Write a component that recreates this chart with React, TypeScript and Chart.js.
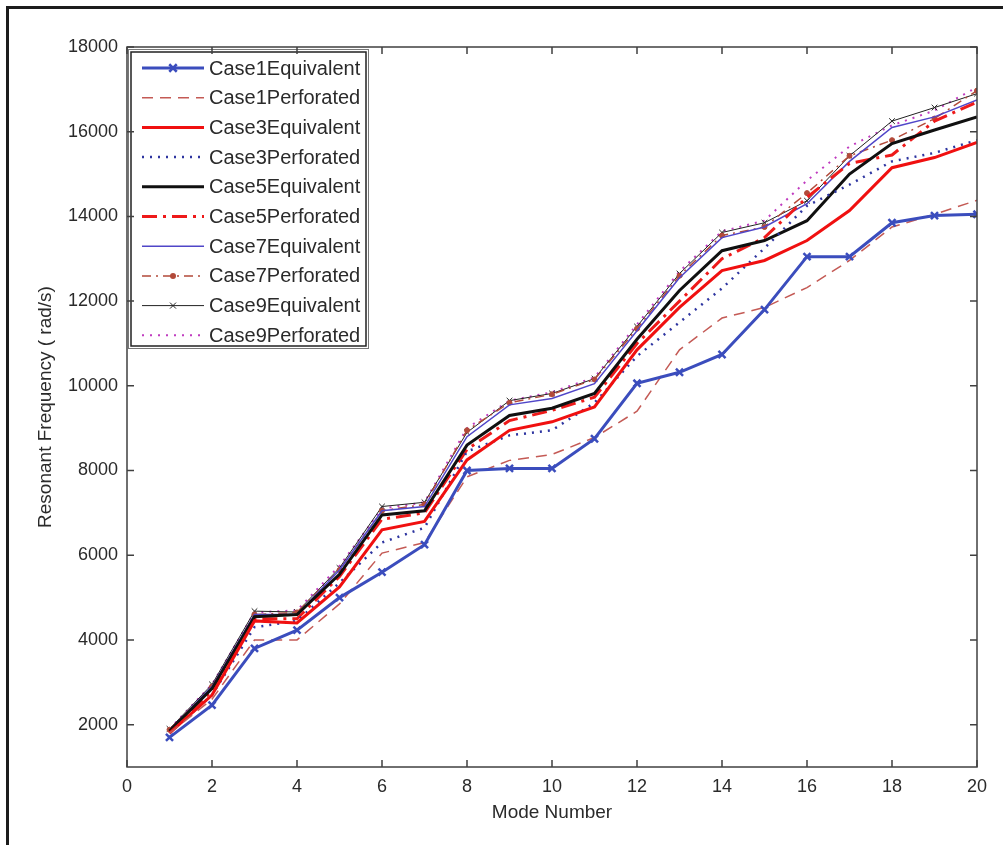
import React, { useEffect, useRef } from "react";
import { Chart, registerables } from "chart.js";

Chart.register(...registerables);

const modes = [1, 2, 3, 4, 5, 6, 7, 8, 9, 10, 11, 12, 13, 14, 15, 16, 17, 18, 19, 20];
const xTicks = [0, 2, 4, 6, 8, 10, 12, 14, 16, 18, 20];
const yTicks = [2000, 4000, 6000, 8000, 10000, 12000, 14000, 16000, 18000];

const case1Equivalent = [1700, 2460, 3800, 4230, 5000, 5600, 6250, 8000, 8050, 8050, 8750, 10060, 10320, 10740, 11800, 13050, 13050, 13850, 14020, 14050];
const case1Perforated = [1800, 2600, 4000, 4000, 4850, 6050, 6300, 7850, 8240, 8380, 8780, 9400, 10850, 11600, 11850, 12320, 12960, 13750, 14050, 14380];
const case3Equivalent = [1800, 2700, 4450, 4400, 5250, 6600, 6800, 8250, 8950, 9150, 9500, 10850, 11850, 12720, 12960, 13430, 14140, 15150, 15390, 15750];
const case3Perforated = [1800, 2700, 4300, 4450, 5350, 6300, 6650, 8450, 8830, 8950, 9600, 10700, 11500, 12300, 13250, 14250, 14750, 15300, 15500, 15800];
const case5Equivalent = [1850, 2850, 4550, 4600, 5550, 6950, 7050, 8600, 9300, 9470, 9820, 11100, 12250, 13190, 13430, 13900, 15000, 15720, 16040, 16350];
const case5Perforated = [1850, 2800, 4500, 4500, 5500, 6850, 7000, 8500, 9180, 9420, 9730, 11000, 12000, 13000, 13500, 14450, 15250, 15450, 16250, 16700];
const case7Equivalent = [1870, 2900, 4600, 4600, 5650, 7050, 7150, 8800, 9550, 9700, 10050, 11300, 12550, 13500, 13750, 14300, 15300, 16100, 16350, 16750];
const case7Perforated = [1880, 2900, 4600, 4650, 5650, 7050, 7200, 8950, 9600, 9800, 10150, 11350, 12600, 13550, 13750, 14550, 15430, 15800, 16310, 16970];
const case9Equivalent = [1900, 2950, 4680, 4660, 5700, 7150, 7250, 8900, 9650, 9820, 10170, 11400, 12650, 13620, 13850, 14370, 15430, 16250, 16570, 16900];
const case9Perforated = [1900, 2950, 4650, 4700, 5750, 7100, 7250, 9000, 9650, 9850, 10200, 11450, 12700, 13650, 13900, 14850, 15650, 16150, 16500, 17050];

const FONT = "'Liberation Sans', Arial, Helvetica, sans-serif";
const TEXT = "#2a2a2a";
const AXIS = "#404040";

type Series = {
  label: string;
  values: number[];
  color: string;
  width: number;
  dash: number[];
  marker: string | false;
  markerRadius: number;
  markerWidth: number;
};

const seriesList: Series[] = [
  { label: "Case1Equivalent", values: case1Equivalent, color: "#3b4dbd", width: 3, dash: [], marker: "crossRot", markerRadius: 5, markerWidth: 2.5 },
  { label: "Case1Perforated", values: case1Perforated, color: "#c45a55", width: 1.5, dash: [11, 7], marker: false, markerRadius: 0, markerWidth: 0 },
  { label: "Case3Equivalent", values: case3Equivalent, color: "#f01010", width: 3, dash: [], marker: false, markerRadius: 0, markerWidth: 0 },
  { label: "Case3Perforated", values: case3Perforated, color: "#2e35a0", width: 2.5, dash: [2, 6], marker: false, markerRadius: 0, markerWidth: 0 },
  { label: "Case5Equivalent", values: case5Equivalent, color: "#101010", width: 3, dash: [], marker: false, markerRadius: 0, markerWidth: 0 },
  { label: "Case5Perforated", values: case5Perforated, color: "#ee1a1a", width: 3, dash: [15, 6, 3, 6], marker: false, markerRadius: 0, markerWidth: 0 },
  { label: "Case7Equivalent", values: case7Equivalent, color: "#5046c8", width: 1.5, dash: [], marker: false, markerRadius: 0, markerWidth: 0 },
  { label: "Case7Perforated", values: case7Perforated, color: "#b24a3a", width: 1.5, dash: [9, 5, 2, 5], marker: "circle", markerRadius: 2.5, markerWidth: 1 },
  { label: "Case9Equivalent", values: case9Equivalent, color: "#222222", width: 1, dash: [], marker: "crossRot", markerRadius: 4, markerWidth: 1 },
  { label: "Case9Perforated", values: case9Perforated, color: "#c03cc0", width: 2, dash: [2, 6], marker: false, markerRadius: 0, markerWidth: 0 },
];

const legendPlugin = {
  id: "boxLegend",
  afterDatasetsDraw(chart: any) {
    const ctx = chart.ctx as CanvasRenderingContext2D;
    const bx = 128, by = 49, bw = 240, bh = 299;
    ctx.save();
    ctx.fillStyle = "#ffffff";
    ctx.fillRect(bx, by, bw, bh);
    ctx.strokeStyle = "#777";
    ctx.lineWidth = 1;
    ctx.strokeRect(bx + 0.5, by + 0.5, bw, bh);
    ctx.strokeStyle = "#222";
    ctx.lineWidth = 1.5;
    ctx.strokeRect(bx + 3, by + 3, bw - 5, bh - 5);
    ctx.font = `20px ${FONT}`;
    ctx.textBaseline = "middle";
    ctx.textAlign = "left";
    seriesList.forEach((s, i) => {
      const y = 68 + i * 29.7;
      ctx.strokeStyle = s.color;
      ctx.lineWidth = s.width;
      ctx.setLineDash(s.dash);
      ctx.beginPath();
      ctx.moveTo(142, y);
      ctx.lineTo(204, y);
      ctx.stroke();
      ctx.setLineDash([]);
      const cx = 173;
      if (s.marker === "crossRot") {
        const r = s.markerRadius * 0.75;
        ctx.lineWidth = s.markerWidth;
        ctx.beginPath();
        ctx.moveTo(cx - r, y - r);
        ctx.lineTo(cx + r, y + r);
        ctx.moveTo(cx - r, y + r);
        ctx.lineTo(cx + r, y - r);
        ctx.stroke();
      } else if (s.marker === "circle") {
        ctx.fillStyle = s.color;
        ctx.beginPath();
        ctx.arc(cx, y, s.markerRadius + 0.5, 0, Math.PI * 2);
        ctx.fill();
      }
      ctx.fillStyle = TEXT;
      ctx.fillText(s.label, 209, y + 1);
    });
    ctx.restore();
  },
};

const framePlugin = {
  id: "axesFrame",
  afterDraw(chart: any) {
    const ctx = chart.ctx as CanvasRenderingContext2D;
    const { left, right, top, bottom } = chart.chartArea;
    const xs = chart.scales.x;
    const ys = chart.scales.y;
    ctx.save();
    ctx.strokeStyle = AXIS;
    ctx.lineWidth = 1.5;
    ctx.strokeRect(left, top, right - left, bottom - top);
    const tl = 7;
    ctx.beginPath();
    xTicks.forEach((v) => {
      const px = xs.getPixelForValue(v);
      ctx.moveTo(px, bottom);
      ctx.lineTo(px, bottom - tl);
      ctx.moveTo(px, top);
      ctx.lineTo(px, top + tl);
    });
    yTicks.forEach((v) => {
      const py = ys.getPixelForValue(v);
      ctx.moveTo(left, py);
      ctx.lineTo(left + tl, py);
      ctx.moveTo(right, py);
      ctx.lineTo(right - tl, py);
    });
    ctx.stroke();
    ctx.restore();
  },
};

export default function App() {
  const ref = useRef<HTMLCanvasElement | null>(null);

  useEffect(() => {
    if (!ref.current) return;
    const datasets = seriesList.map((s) => ({
      label: s.label,
      data: modes.map((m, i) => ({ x: m, y: s.values[i] })),
      borderColor: s.color,
      backgroundColor: s.color,
      borderWidth: s.width,
      borderDash: s.dash,
      fill: false,
      tension: 0,
      pointStyle: s.marker === false ? "circle" : s.marker,
      pointRadius: s.marker === false ? 0 : s.markerRadius,
      pointBorderWidth: s.markerWidth,
      pointBorderColor: s.color,
      pointBackgroundColor: s.color,
      pointHoverRadius: 0,
    }));
    const chart = new Chart(ref.current, {
      type: "line",
      data: { datasets },
      options: {
        animation: false,
        responsive: false,
        maintainAspectRatio: false,
        devicePixelRatio: 1,
        layout: { padding: { top: 47, right: 26, left: 0, bottom: 0 } },
        plugins: { legend: { display: false }, tooltip: { enabled: false } },
        scales: {
          x: {
            type: "linear",
            min: 0,
            max: 20,
            afterBuildTicks: (s: any) => {
              s.ticks = xTicks.map((v) => ({ value: v }));
            },
            afterFit: (s: any) => {
              s.height = 78;
            },
            grid: { display: false, drawTicks: false },
            border: { display: false },
            ticks: {
              color: TEXT,
              font: { family: FONT, size: 18 },
              padding: 9,
              maxRotation: 0,
              autoSkip: false,
              callback: (v: any) => String(v),
            },
            title: {
              display: true,
              text: "Mode Number",
              color: TEXT,
              font: { family: FONT, size: 19 },
              padding: { top: 0, bottom: 21 },
            },
          },
          y: {
            type: "linear",
            min: 1000,
            max: 18000,
            afterBuildTicks: (s: any) => {
              s.ticks = yTicks.map((v) => ({ value: v }));
            },
            afterFit: (s: any) => {
              s.width = 127;
            },
            grid: { display: false, drawTicks: false },
            border: { display: false },
            ticks: {
              color: TEXT,
              font: { family: FONT, size: 18 },
              padding: 9,
              autoSkip: false,
              callback: (v: any) => String(v),
            },
            title: {
              display: true,
              text: "Resonant Frequency ( rad/s)",
              color: TEXT,
              font: { family: FONT, size: 19 },
              padding: { top: 34, bottom: 0 },
            },
          },
        },
      },
      plugins: [legendPlugin, framePlugin],
    } as any);
    return () => chart.destroy();
  }, []);

  return (
    <div style={{ position: "absolute", left: 0, top: 0, width: 1003, height: 845, overflow: "hidden", background: "#fff" }}>
      <canvas ref={ref} width={1003} height={845} style={{ position: "absolute", left: 0, top: 0, width: 1003, height: 845 }} />
      <div style={{ position: "absolute", left: 6, top: 6, width: 1100, height: 900, borderTop: "3px solid #1c1c1c", borderLeft: "3px solid #1c1c1c", pointerEvents: "none" }} />
    </div>
  );
}
